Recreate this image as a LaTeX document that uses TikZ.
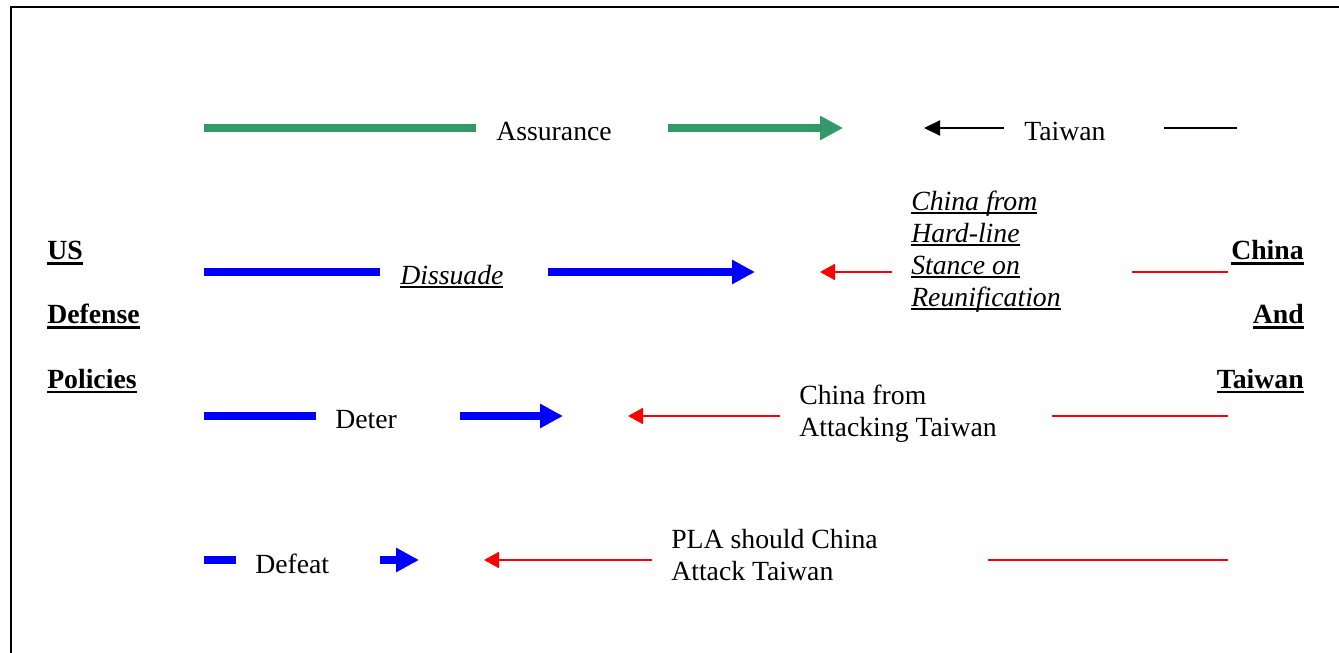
\documentclass[tikz,border=0pt]{standalone}
\usepackage{fontspec}
\setmainfont{Liberation Serif}
\usetikzlibrary{arrows.meta}

\definecolor{seagreen}{RGB}{51,153,102}
\newsavebox\ulsave
% underlined text: #1 = depth of the rule's lower edge, #2 = rule thickness
\newcommand\ulinetext[3]{\sbox\ulsave{#3}\rlap{\rule[-#1]{\wd\ulsave}{#2}}\usebox\ulsave}
\newcommand\boldul[1]{\ulinetext{4pt}{1.9pt}{\bfseries #1}}
\newcommand\itul[1]{\ulinetext{2.7pt}{1.4pt}{\itshape #1}}

\begin{document}
\begin{tikzpicture}[x=0.75pt,y=-0.75pt,
  txt/.style={inner sep=0pt,anchor=base west,font=\fontsize{20.8pt}{24pt}\selectfont},
  rtxt/.style={txt,anchor=base east},
  bar/.style={line width=5.6pt,line cap=butt},
  bigarrow/.style={bar,-{Triangle[length=17.25pt,width=17.25pt]}},
  slimline/.style={line width=1.5pt,line cap=butt},
  slimarrow/.style={slimline,-{Triangle[length=11.25pt,width=12pt]}}]
\useasboundingbox (0,0) rectangle (1339,653);
\clip (0,0) rectangle (1339,653);
\fill[white] (0,0) rectangle (1339,653);

% frame (right and bottom sides lie beyond the page)
\draw[line width=1.6pt] (11,7) rectangle (1360,680);

% side headings
\node[txt] (us)  at (47,259.5) {\boldul{US}};
\node[txt] (def) at (47,323.5) {\boldul{Defense}};
\node[txt] (pol) at (47,388)   {\boldul{Policies}};
\node[rtxt] (chn) at (1304,259.5) {\boldul{China}};
\node[rtxt] (and) at (1304,323.5) {\boldul{And}};
\node[rtxt] (twn) at (1304,388)   {\boldul{Taiwan}};

% row 1: assurance
\coordinate (a1) at (204,128); \coordinate (a2) at (476,128);
\coordinate (a3) at (668,128); \coordinate (a4) at (843,128);
\coordinate (a5) at (1004,128); \coordinate (a6) at (924,128);
\coordinate (a7) at (1164,128); \coordinate (a8) at (1237,128);
\node[txt] (assur) at (496,140) {Assurance};
\node[txt] (taiw)  at (1024,140) {Taiwan};
\draw[bar,seagreen] (a1) -- (a2);
\draw[bigarrow,seagreen] (a3) -- (a4);
\draw[slimline,-{Triangle[length=12pt,width=11.25pt]}] (a5) -- (a6);
\draw[slimline] (a7) -- (a8);

% row 2: dissuade
\coordinate (b1) at (204,272); \coordinate (b2) at (380,272);
\coordinate (b3) at (548,272); \coordinate (b4) at (755,272);
\coordinate (b5) at (892,272); \coordinate (b6) at (820,272);
\coordinate (b7) at (1132,272); \coordinate (b8) at (1228,272);
\node[txt] (diss) at (400,284) {\itul{Dissuade}};
\node[txt] (hl1) at (911,210.7) {\itul{China from}};
\node[txt] (hl2) at (911,242.7) {\itul{Hard-line}};
\node[txt] (hl3) at (911,274.7) {\itul{Stance on}};
\node[txt] (hl4) at (911,306.7) {\itul{Reunification}};
\draw[bar,blue] (b1) -- (b2);
\draw[bigarrow,blue] (b3) -- (b4);
\draw[slimarrow,red] (b5) -- (b6);
\draw[slimline,red] (b7) -- (b8);

% row 3: deter
\coordinate (c1) at (204,416); \coordinate (c2) at (316,416);
\coordinate (c3) at (460,416); \coordinate (c4) at (563,416);
\coordinate (c5) at (780,416); \coordinate (c6) at (628,416);
\coordinate (c7) at (1052,416); \coordinate (c8) at (1228,416);
\node[txt] (deter) at (335,428) {Deter};
\node[txt] (at1) at (799,404) {China from};
\node[txt] (at2) at (799,436) {Attacking Taiwan};
\draw[bar,blue] (c1) -- (c2);
\draw[bigarrow,blue] (c3) -- (c4);
\draw[slimarrow,red] (c5) -- (c6);
\draw[slimline,red] (c7) -- (c8);

% row 4: defeat
\coordinate (d1) at (204,560); \coordinate (d2) at (236,560);
\coordinate (d3) at (380,560); \coordinate (d4) at (419,560);
\coordinate (d5) at (652,560); \coordinate (d6) at (484,560);
\coordinate (d7) at (988,560); \coordinate (d8) at (1228,560);
\node[txt] (defeat) at (255,573) {Defeat};
\node[txt] (pla1) at (671,548) {PLA should China};
\node[txt] (pla2) at (671,580) {Attack Taiwan};
\draw[bar,blue] (d1) -- (d2);
\draw[bigarrow,blue] (d3) -- (d4);
\draw[slimarrow,red] (d5) -- (d6);
\draw[slimline,red] (d7) -- (d8);
\end{tikzpicture}
\end{document}
